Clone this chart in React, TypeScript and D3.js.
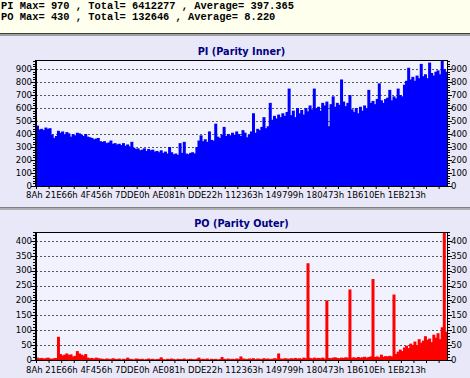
import React from "react";
import * as d3 from "d3";

const headerLines = [
  "PI Max= 970 , Total= 6412277 , Average= 397.365",
  "PO Max= 430 , Total= 132646 , Average= 8.220",
];

const xLabels = ["8Ah", "21E66h", "4F456h", "7DDE0h", "AE081h", "DDE22h", "112363h", "149799h", "180473h", "1B610Eh", "1EB213h"];

const piValues = [
  465, 435, 440, 430, 450, 440, 445, 395, 370, 385,
  425, 410, 420, 395, 415, 405, 380, 400, 390, 410,
  405, 395, 385, 400, 380, 375, 370, 360, 365, 370,
  345, 340, 345, 330, 335, 350, 325, 330, 320, 325,
  315, 330, 310, 320, 305, 340, 295, 285, 290, 275,
  280, 290, 270, 285, 275, 280, 265, 270, 260, 275,
  255, 265, 250, 300, 260, 245, 250, 240, 330, 255,
  340, 250, 245, 255, 260, 250, 300, 350, 390, 345,
  360, 340, 420, 355, 350, 480, 380, 370, 395, 455,
  385, 400, 390, 410, 395, 420, 400, 385, 430, 410,
  375, 395, 420, 560, 410, 440, 430, 455, 530, 445,
  460, 640, 510, 540, 520, 550, 530, 560, 540, 570,
  750, 545, 580, 530, 600, 560, 585, 550, 600, 575,
  620, 590, 750, 600, 610, 580, 640, 620, 650, 460,
  630, 690, 610, 640, 625, 820, 650, 615, 640, 700,
  590, 570, 600, 560, 610, 580, 620, 600, 740, 640,
  655, 630, 670, 790, 660, 640, 670, 680, 740, 660,
  690, 675, 750, 700, 690, 780, 810, 910, 820, 840,
  810, 850, 830, 940, 845, 860, 830, 950, 870, 850,
  880, 890, 860, 970, 900, 880,
];

const poValues = [
  8, 6, 7, 5, 6, 8, 5, 4, 6, 7,
  78, 20, 15, 18, 22, 17, 19, 12, 14, 30,
  22, 18, 15, 20, 8, 6, 7, 5, 8, 6,
  5, 4, 3, 5, 4, 3, 6, 4, 3, 5,
  2, 4, 3, 8, 4, 3, 2, 5, 4, 3,
  4, 2, 3, 5, 3, 4, 2, 3, 4, 9,
  3, 2, 4, 3, 5, 3, 2, 4, 3, 3,
  5, 2, 3, 4, 3, 2, 4, 8, 3, 4,
  3, 5, 2, 4, 3, 4, 2, 3, 10, 4,
  3, 5, 3, 4, 3, 5, 4, 12, 5, 4,
  3, 5, 4, 6, 3, 5, 4, 3, 6, 4,
  5, 3, 4, 6, 5, 22, 5, 4, 6, 5,
  4, 6, 5, 7, 5, 6, 4, 8, 6, 325,
  7, 5, 8, 6, 7, 6, 8, 5, 200, 7,
  6, 8, 9, 7, 6, 8, 7, 9, 8, 237,
  8, 9, 7, 10, 8, 9, 11, 8, 10, 12,
  272, 10, 12, 9, 18, 11, 13, 12, 14, 12,
  220, 20, 28, 35, 30, 42, 48, 40, 55, 50,
  62, 48, 70, 58, 65, 80, 68, 72, 60, 85,
  75, 90, 70, 110, 430, 95,
];

const PLOT_L = 36;
const PLOT_R = 447;

function Panel(props: {
  values: number[];
  max: number;
  step: number;
  minor: number;
  color: string;
  title: string;
  top: number;
  bottom: number;
  titleY: number;
  labelY: number;
}) {
  const { values, max, step, minor, color, title, top, bottom, titleY, labelY } = props;
  const x = d3
    .scaleBand<number>()
    .domain(values.map((_, i) => i))
    .range([PLOT_L, PLOT_R])
    .paddingInner(0)
    .paddingOuter(0);
  const y = d3.scaleLinear().domain([0, max]).range([bottom, top]);
  const major = d3.range(0, max + 1, step);
  const minors = d3.range(0, max + 1, minor);
  const bw = x.bandwidth();
  const xTicks = values.map((_, i) => i).filter((i) => i % 6 === 0);
  const py = (v: number) => Math.round(y(v)) + 0.5;
  return (
    <g>
      <rect x={PLOT_L} y={top} width={PLOT_R - PLOT_L} height={bottom - top} fill="#F2F2FF" />
      <text
        x={(PLOT_L + PLOT_R) / 2}
        y={titleY}
        textAnchor="middle"
        fontFamily="DejaVu Sans"
        fontWeight="bold"
        fontSize={9.7}
        fill="#000080"
      >
        {title}
      </text>
      {major.slice(1).map((v) => (
        <line
          key={"g" + v}
          x1={PLOT_L}
          x2={PLOT_R}
          y1={py(v)}
          y2={py(v)}
          stroke="#555"
          strokeWidth={1}
          strokeDasharray="2,2"
        />
      ))}
      {values.map((v, i) => (
        <rect
          key={"b" + i}
          x={x(i)!}
          y={y(v)}
          width={Math.min(bw + 0.9, PLOT_R - x(i)!)}
          height={bottom - y(v)}
          fill={color}
        />
      ))}
      <line x1={PLOT_L} x2={PLOT_R} y1={top + 0.5} y2={top + 0.5} stroke="#000" />
      <line x1={PLOT_R + 0.5} x2={PLOT_R + 0.5} y1={top} y2={bottom} stroke="#000" />
      <line x1={PLOT_L} x2={PLOT_L} y1={top} y2={bottom + 1} stroke="#000" strokeWidth={2} />
      <line x1={PLOT_L} x2={PLOT_R + 1} y1={bottom + 0.5} y2={bottom + 0.5} stroke="#000" />
      {minors.map((v) => (
        <g key={"m" + v}>
          <line x1={PLOT_L - 3} x2={PLOT_L} y1={py(v)} y2={py(v)} stroke="#000" />
          <line x1={PLOT_R} x2={PLOT_R + 3} y1={py(v)} y2={py(v)} stroke="#000" />
        </g>
      ))}
      {major.map((v) => (
        <g key={"t" + v}>
          <line x1={PLOT_L - 5} x2={PLOT_L} y1={py(v)} y2={py(v)} stroke="#000" />
          <line x1={PLOT_R} x2={PLOT_R + 5} y1={py(v)} y2={py(v)} stroke="#000" />
          <text x={PLOT_L - 4} y={y(v) + 2.8} textAnchor="end" fontFamily="DejaVu Sans" fontSize={8.5} fill="#000">
            {v}
          </text>
          <text x={PLOT_R + 4} y={y(v) + 2.8} textAnchor="start" fontFamily="DejaVu Sans" fontSize={8.5} fill="#000">
            {v}
          </text>
        </g>
      ))}
      {xTicks.map((i) => (
        <line key={"x" + i} x1={x(i)! + 0.5} x2={x(i)! + 0.5} y1={bottom} y2={bottom + 3} stroke="#000" />
      ))}
      <text x={26} y={labelY} fontFamily="DejaVu Sans" fontSize={8.5} fill="#000" style={{ whiteSpace: "pre" }}>
        {xLabels.join(" ")}
      </text>
    </g>
  );
}

export default function App() {
  return (
    <svg
      width={470}
      height={378}
      style={{ position: "absolute", left: 0, top: 0 }}
      xmlns="http://www.w3.org/2000/svg"
    >
      <rect x={0} y={0} width={470} height={378} fill="#E8E8F8" />
      <rect x={0} y={0} width={470} height={33} fill="#FFFFEE" />
      {headerLines.map((t, i) => (
        <text
          key={i}
          x={1}
          y={9 + i * 11}
          fontFamily="Liberation Mono"
          fontWeight="bold"
          fontSize={10.4}
          fill="#000"
          style={{ whiteSpace: "pre" }}
        >
          {t}
        </text>
      ))}
      <rect x={0} y={33} width={470} height={1} fill="#404040" />
      <rect x={0} y={34} width={470} height={2} fill="#A0A0A0" />
      <rect x={0} y={207} width={470} height={1} fill="#808080" />
      <rect x={0} y={208} width={470} height={2} fill="#B0B0B0" />
      <Panel
        values={piValues}
        max={970}
        step={100}
        minor={20}
        color="#0000FF"
        title="PI (Parity Inner)"
        top={60}
        bottom={186}
        titleY={55}
        labelY={198}
      />
      <Panel
        values={poValues}
        max={430}
        step={50}
        minor={10}
        color="#FF0000"
        title="PO (Parity Outer)"
        top={232}
        bottom={360}
        titleY={227}
        labelY={373}
      />
    </svg>
  );
}
